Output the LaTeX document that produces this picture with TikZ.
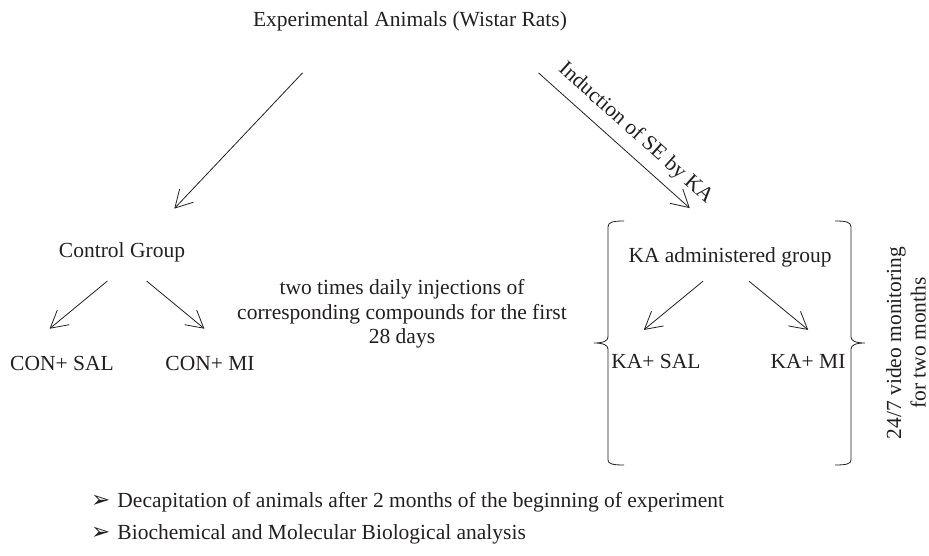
\documentclass[tikz,border=0pt]{standalone}
\usepackage{fontspec}
\setmainfont{Liberation Serif}
\newfontfamily\symfont{DejaVu Sans}
\usetikzlibrary{arrows.meta,positioning}
\definecolor{ink}{RGB}{35,31,32}
\tikzset{
	txt/.style={inner sep=0pt,text height=15pt,text depth=5pt},
	arr/.style={-{Straight Barb[length=17pt,width=19pt]},line width=0.8pt},
	brack/.style={line width=0.8pt}
}

\begin{document}
\begin{tikzpicture}[x=1pt,y=-1pt,color=ink,font=\fontsize{21.5}{24.5}\selectfont]
\useasboundingbox (0,0) rectangle (929,556);

\node[txt] (animals) at (410,22) {Experimental Animals (Wistar Rats)};
\node[txt] (ctrl) at (122,253) {Control Group};
\node[txt] (consal) at (62,365) {CON+ SAL};
\node[txt] (conmi) at (210,365) {CON+ MI};
\node[align=center,inner sep=0pt] (inj) at (402,314) {two times daily injections of\\corresponding compounds for the first\\28 days};
\node[txt] (ka) at (730,257) {KA administered group};
\node[txt] (kasal) at (656,363) {KA+ SAL};
\node[txt] (kami) at (808,363) {KA+ MI};
\node[rotate=90,align=center,inner sep=0pt] (mon) at (906,343) {24/7 video monitoring\\for two months};

\node[txt,anchor=west] (dec) at (91,502) {{\symfont\fontsize{23}{23}\selectfont ➢}\hspace{7pt}Decapitation of animals after 2 months of the beginning of experiment};
\node[txt,below=12pt of dec.south west,anchor=north west] (bio) {{\symfont\fontsize{23}{23}\selectfont ➢}\hspace{7pt}Biochemical and Molecular Biological analysis};

\draw[arr,shorten <=56pt,shorten >=47pt] ([xshift=-69pt]animals.south) -- ([xshift=20pt]ctrl.north);
\draw[arr,shorten <=61pt,shorten >=58pt] ([xshift=83pt]animals.south) -- node[txt,pos=0.54,above=9pt,sloped] {Induction of SE by KA} ([xshift=3pt]ka.north);
\draw[arr,shorten <=28pt,shorten >=41pt] ([xshift=7pt]ctrl.south) -- ([xshift=-44pt]consal.north);
\draw[arr,shorten <=28pt,shorten >=41pt] ([xshift=3pt]ctrl.south) -- ([xshift=26pt]conmi.north);
\draw[arr,shorten <=22pt,shorten >=36pt] ([xshift=-10pt]ka.south) -- ([xshift=-40pt]kasal.north);
\draw[arr,shorten <=22pt,shorten >=36pt] ([xshift=2pt]ka.south) -- ([xshift=28pt]kami.north);

\draw[brack] (624,221) .. controls (613,221) and (608,222) .. (608,227) -- (608,337) .. controls (608,341) and (603,343) .. (594,343) .. controls (603,343) and (608,345) .. (608,349) -- (608,460) .. controls (608,464) and (613,465) .. (624,465);
\draw[brack] (835,221) .. controls (846,221) and (851,222) .. (851,227) -- (851,337) .. controls (851,341) and (856,343) .. (865,343) .. controls (856,343) and (851,345) .. (851,349) -- (851,460) .. controls (851,464) and (846,465) .. (835,465);

\end{tikzpicture}
\end{document}
